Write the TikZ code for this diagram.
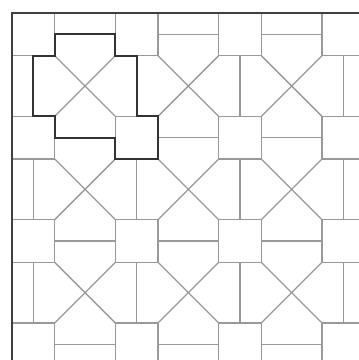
\documentclass[tikz,border=0pt]{standalone}
\usepackage{tikz}

\begin{document}
\begin{tikzpicture}[
  x=2cm, y=-2cm,
  tileline/.style={draw=black!40, line width=0.7pt},
  outline/.style={draw=black!80, line width=1.1pt, line join=miter},
  frame/.style={draw=black!75, line width=1.3pt},
]
  \pgfmathsetmacro{\halfsq}{0.2071}
  \pgfmathsetmacro{\arm}{0.2929}
  \useasboundingbox (-0.823,-0.8325) rectangle (2.643,2.652);

  \begin{scope}
    \clip (-0.707,-0.707) rectangle (2.7,2.7);
    \foreach \i in {-1,...,3} {
      \foreach \j in {-1,...,3} {
        \draw[tileline] (\i+0.5-\halfsq,\j+0.5-\halfsq) rectangle (\i+0.5+\halfsq,\j+0.5+\halfsq);
        \draw[tileline] (\i-\arm,\j-\arm) -- (\i+\arm,\j+\arm)
                        (\i-\arm,\j+\arm) -- (\i+\arm,\j-\arm);
        \draw[tileline] (\i-\arm,\j+0.5) -- (\i+\arm,\j+0.5);
        \draw[tileline] (\i+0.5,\j-\arm) -- (\i+0.5,\j+\arm);
      }
    }
  \end{scope}

  \draw[outline] (-\arm,-0.5) -- (\arm,-0.5) -- (\arm,-\arm) -- (0.5,-\arm) -- (0.5,\arm)
    -- (0.5+\halfsq,\arm) -- (0.5+\halfsq,0.5+\halfsq) -- (\arm,0.5+\halfsq) -- (\arm,0.5)
    -- (-\arm,0.5) -- (-\arm,\arm) -- (-0.5,\arm) -- (-0.5,-\arm) -- (-\arm,-\arm) -- cycle;

  \draw[frame] (-0.707,2.7) -- (-0.707,-0.707) -- (2.7,-0.707);
\end{tikzpicture}
\end{document}
